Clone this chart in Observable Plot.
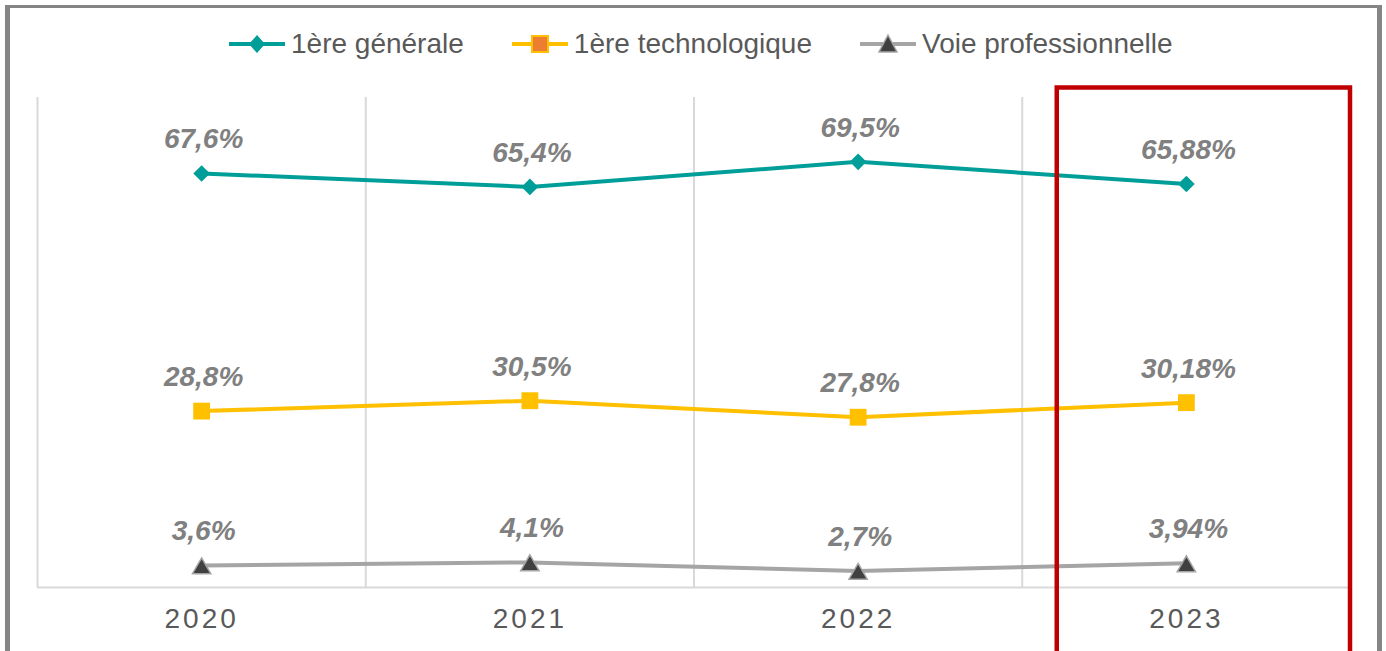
<!DOCTYPE html>
<html>
<head>
<meta charset="utf-8">
<script src="https://cdn.jsdelivr.net/npm/d3@7"></script>
<script src="https://cdn.jsdelivr.net/npm/@observablehq/plot@0.6"></script>
<style>
  html, body { margin: 0; padding: 0; background: white; }
  #wrap { position: relative; width: 1386px; height: 651px; overflow: hidden; background: white; font-family: "Liberation Sans", Arial, sans-serif; }
  #legend { height: 88px; display: flex; align-items: center; padding-left: 229px; box-sizing: border-box; font-size: 28px; color: #595959; }
  .item { display: flex; align-items: center; margin-right: 48px; }
  .item svg { margin-right: 6px; }
  #frame { position: absolute; left: 5px; top: 5px; width: 1377px; height: 700px; box-sizing: border-box; border-style: solid; border-color: #858585; border-width: 3px 5px 0 5px; pointer-events: none; }
  g[aria-label="x-axis tick label"] text { letter-spacing: 3px; }
</style>
</head>
<body>
<div id="wrap">
  <div id="legend"></div>
  <div id="chart"></div>
  <div id="frame"></div>
</div>
<script>
const years = [2020, 2021, 2022, 2023];
const seriesNames = ["1ère générale", "1ère technologique", "Voie professionnelle"];
const generale = [67.6, 65.4, 69.5, 65.88];
const technologique = [28.8, 30.5, 27.8, 30.18];
const professionnelle = [3.6, 4.1, 2.7, 3.94];
const highlightYears = [2023];

const teal = "#009E98", yellow = "#FFC000", grey = "#A5A5A5", dark = "#404040", orange = "#ED7D31";

const seriesValues = [generale, technologique, professionnelle];
const rows = seriesValues.map((vals, i) => years.map((y, j) => ({series: seriesNames[i], year: y, value: vals[j]})));
const fmt = v => String(v).replace(".", ",") + "%";
const bounds = [...years.map(y => y - 0.5), years[years.length - 1] + 0.5];

// Legend
const legendSwatches = [
  `<line x1="0" x2="56" y1="12" y2="12" stroke="${teal}" stroke-width="4"/><path d="M28,3 L36,12 L28,21 L20,12 Z" fill="${teal}"/>`,
  `<line x1="0" x2="56" y1="12" y2="12" stroke="${yellow}" stroke-width="4"/><rect x="20" y="4" width="16" height="16" fill="${orange}" stroke="${yellow}" stroke-width="2"/>`,
  `<line x1="0" x2="56" y1="12" y2="12" stroke="${grey}" stroke-width="4"/><path d="M28,3 L37,20 L19,20 Z" fill="${dark}" stroke="${grey}" stroke-width="1.5"/>`
];
const legend = document.getElementById("legend");
seriesNames.forEach((name, i) => {
  const it = document.createElement("div");
  it.className = "item";
  it.innerHTML = `<svg width="56" height="24">${legendSwatches[i]}</svg><span>${name}</span>`;
  legend.appendChild(it);
});

const textOpts = {x: "year", y: "value", text: d => fmt(d.value), fontSize: 28, fontWeight: "bold", fontStyle: "italic", fill: "#808080", dy: -34, dx: 2, textAnchor: "middle"};

const chart = Plot.plot({
  width: 1386,
  height: 563,
  marginTop: 9,
  marginBottom: 64,
  marginLeft: 37,
  marginRight: 36,
  x: {type: "linear", domain: [years[0] - 0.5, years[years.length - 1] + 0.5], label: null},
  y: {domain: [0, 80], axis: null, label: null},
  style: {fontFamily: "'Liberation Sans', Arial, sans-serif", background: "white", overflow: "visible"},
  marks: [
    Plot.ruleX(bounds.slice(0, -1), {stroke: "#D9D9D9", strokeWidth: 2}),
    Plot.ruleY([0], {stroke: "#D9D9D9", strokeWidth: 2}),
    Plot.axisX({ticks: years, tickFormat: d => String(d), tickSize: 0, tickPadding: 21, fontSize: 28, fill: "#595959", label: null}),
    Plot.line(rows[0], {x: "year", y: "value", stroke: teal, strokeWidth: 4}),
    Plot.line(rows[1], {x: "year", y: "value", stroke: yellow, strokeWidth: 4}),
    Plot.line(rows[2], {x: "year", y: "value", stroke: grey, strokeWidth: 4}),
    Plot.dot(rows[0], {x: "year", y: "value", symbol: "diamond2", r: 7.5, fill: teal}),
    Plot.dot(rows[1], {x: "year", y: "value", symbol: "square", r: 9.5, fill: yellow}),
    Plot.dot(rows[2], {x: "year", y: "value", symbol: "triangle", r: 6.8, fill: dark, stroke: grey, strokeWidth: 1.5, dy: 3}),
    Plot.text(rows[0], textOpts),
    Plot.text(rows[1], textOpts),
    Plot.text(rows[2], textOpts),
    Plot.rect(highlightYears, {x1: d => d - 0.5, x2: d => d + 0.5, stroke: "#C00000", strokeWidth: 4.5, fill: "none", insetLeft: 35, insetTop: -9.5, insetBottom: -90})
  ]
});
document.getElementById("chart").appendChild(chart);
</script>
</body>
</html>
